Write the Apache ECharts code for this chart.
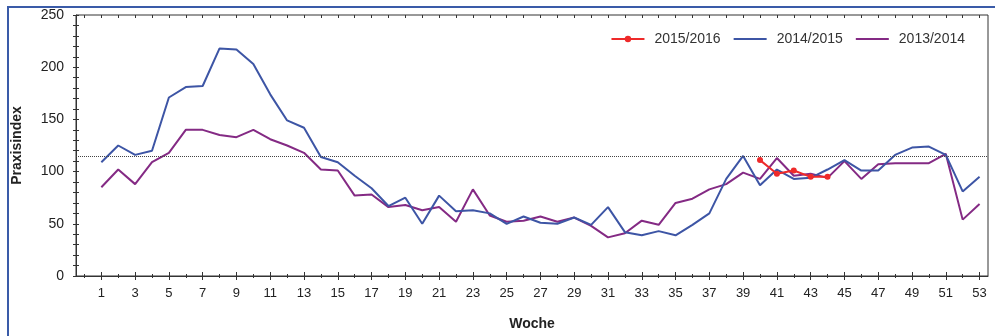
<!DOCTYPE html>
<html>
<head>
<meta charset="utf-8">
<script src="https://cdn.jsdelivr.net/npm/echarts@6/dist/echarts.min.js"></script>
<style>
html,body{margin:0;padding:0;background:#fff;}
#chart{width:995px;height:336px;}
</style>
</head>
<body>
<div id="chart"></div>
<script>
// Weeks 0..53 (week 0 is an empty slot at the left edge)
const weeks = Array.from({length: 54}, (_, i) => String(i));

// 2014/2015, weeks 1..53
const season1415 = [109,125,116,120,171,181,182,218,217,203,174,149,142,114,109,96,84,67,75,50,77,62,63,60,50,57,51,50,56,49,66,42,39,43,39,49,60,93,115,87,102,93,94,102,111,101,101,116,123,124,116,81,95];
// 2013/2014, weeks 1..53
const season1314 = [85,102,88,109,118,140,140,135,133,140,131,125,118,102,101,77,78,66,68,63,66,52,83,58,52,53,57,52,56,48,37,41,53,49,70,74,83,88,99,93,113,96,98,94,110,93,107,108,108,108,117,54,69];
// 2015/2016
const weeks1516 = [40,41,42,43,44];
const season1516 = [111,98,101,95,95];

const threshold = 115;
const yTicks = [0,50,100,150,200,250];

const font = 'Liberation Sans, Arial, sans-serif';
const axisColor = '#333';

const chart = echarts.init(document.getElementById('chart'), null, {renderer: 'canvas'});

const odd = (i) => i % 2 === 1;
const even = (i) => i % 2 === 0;

function tickAxis(pos, inside, len, intervalFn) {
  return {
    type: 'category', data: weeks, position: pos, boundaryGap: true,
    axisLine: {show: false},
    axisTick: {show: true, alignWithLabel: true, inside: inside, length: len, interval: intervalFn, lineStyle: {color: axisColor}},
    axisLabel: {show: false},
    splitLine: {show: false}
  };
}

const option = {
  animation: false,
  backgroundColor: '#fff',
  graphic: [{
    type: 'rect', silent: true,
    shape: {x: 8, y: 7, width: 1200, height: 600},
    style: {fill: 'none', stroke: '#3a5ba8', lineWidth: 2}
  }],
  grid: {left: 76, top: 15, right: 7, bottom: 54, show: true, borderColor: axisColor, borderWidth: 1, backgroundColor: 'transparent'},
  legend: {
    data: [
      {name: '2015/2016'},
      {name: '2014/2015', itemStyle: {opacity: 0}},
      {name: '2013/2014', itemStyle: {opacity: 0}}
    ],
    right: 25, top: 27, itemWidth: 33, itemHeight: 8, itemGap: 12,
    textStyle: {fontSize: 14, color: '#333', fontFamily: font, padding: [0, 0, 0, 5]}
  },
  xAxis: [
    {
      type: 'category', data: weeks, position: 'bottom', boundaryGap: true,
      axisLine: {show: true, lineStyle: {color: axisColor}},
      axisTick: {show: true, alignWithLabel: true, length: 4, interval: odd, lineStyle: {color: axisColor}},
      axisLabel: {interval: odd, margin: 11, fontSize: 13, color: '#222', fontFamily: font},
      splitLine: {show: false},
      name: 'Woche', nameLocation: 'middle', nameGap: 41,
      nameTextStyle: {fontSize: 14, fontWeight: 'bold', color: '#222', fontFamily: font}
    },
    tickAxis('bottom', true, 4, odd),
    tickAxis('bottom', false, 2, even),
    tickAxis('bottom', true, 2, even),
    tickAxis('top', true, 3, 0)
  ],
  yAxis: [
    {
      type: 'value', min: 0, max: 250, interval: 10, position: 'left',
      axisLine: {show: true, lineStyle: {color: axisColor}},
      axisTick: {show: true, length: 3, lineStyle: {color: axisColor}},
      axisLabel: {margin: 12, fontSize: 14, color: '#222', fontFamily: font,
        formatter: (v) => yTicks.indexOf(v) >= 0 ? String(v) : ''},
      splitLine: {show: false},
      name: 'Praxisindex', nameLocation: 'middle', nameGap: 52, nameRotate: 90,
      nameTextStyle: {fontSize: 14, fontWeight: 'bold', color: '#222', fontFamily: font}
    },
    {
      type: 'value', min: 0, max: 250, interval: 10, position: 'left',
      axisLine: {show: false},
      axisTick: {show: true, inside: true, length: 3, lineStyle: {color: axisColor}},
      axisLabel: {show: false},
      splitLine: {show: false}
    }
  ],
  series: [
    {
      name: '2013/2014', type: 'line', symbol: 'none',
      data: [null].concat(season1314),
      lineStyle: {color: '#842a84', width: 2}, itemStyle: {color: '#842a84'}
    },
    {
      name: '2014/2015', type: 'line', symbol: 'none',
      data: [null].concat(season1415),
      lineStyle: {color: '#3d55a5', width: 2}, itemStyle: {color: '#3d55a5'},
      markLine: {
        silent: true, symbol: ['none', 'none'], label: {show: false},
        lineStyle: {type: 'dotted', color: '#444', width: 1},
        data: [{yAxis: threshold}]
      }
    },
    {
      name: '2015/2016', type: 'line', symbol: 'circle', symbolSize: 6, showSymbol: true,
      data: weeks1516.map((w, i) => [String(w), season1516[i]]),
      lineStyle: {color: '#ee2a2a', width: 2}, itemStyle: {color: '#ee2a2a'}
    }
  ]
};

chart.setOption(option);
</script>
</body>
</html>
